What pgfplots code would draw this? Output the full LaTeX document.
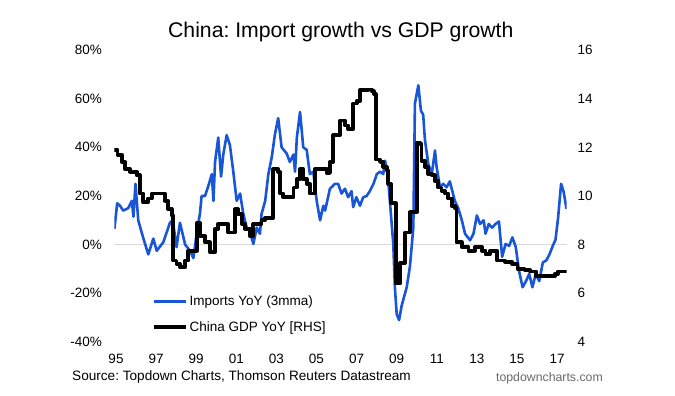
\documentclass[border=0pt]{standalone}
\usepackage{fontspec}
\setmainfont{Liberation Sans}
\usepackage{pgfplots}
\usepackage{pgfplotstable}
\pgfplotsset{compat=1.18}
\frenchspacing
\definecolor{impblue}{RGB}{25,85,215}
\definecolor{gridgray}{RGB}{217,217,217}
\definecolor{srcgray}{RGB}{105,105,105}

\pgfplotstableread{
year imp
1994.92 6.5
1995.06 17
1995.20 16
1995.36 14
1995.61 15
1995.79 18
1995.87 11.5
1995.97 25
1996.11 10
1996.35 3
1996.61 -4
1996.86 2.5
1997.03 -2.5
1997.36 1
1997.69 9
1997.83 10
1998.02 -1
1998.19 9
1998.45 0
1998.69 -2.5
1998.86 -5.5
1999.03 5
1999.19 13
1999.27 20
1999.44 20
1999.60 24
1999.78 29
1999.86 18
1999.94 34
2000.10 44
2000.24 28
2000.35 37
2000.52 45
2000.68 41
2000.85 30
2001.02 18
2001.19 21
2001.35 12.6
2001.52 7
2001.68 5.5
2001.85 0.3
2002.02 7
2002.18 4.5
2002.26 12.6
2002.44 18
2002.60 29
2002.77 36
2002.93 45.5
2003.09 52
2003.26 40
2003.51 37.5
2003.67 34
2003.85 37
2003.93 30
2004.02 44
2004.18 54.5
2004.34 40
2004.51 39
2004.67 29
2004.84 30
2005.01 18
2005.18 10
2005.34 16
2005.43 14
2005.67 23
2005.92 25
2006.08 25
2006.25 21
2006.42 23
2006.58 19.5
2006.75 22
2006.83 15.4
2006.99 19.5
2007.17 16
2007.33 19.5
2007.50 20
2007.66 22
2007.84 25
2008.01 29
2008.17 30
2008.33 29
2008.42 34.5
2008.55 29
2008.66 18
2008.83 0.3
2008.91 -17.5
2009.00 -28.5
2009.12 -31
2009.25 -25
2009.50 -17.5
2009.66 -9
2009.83 7
2009.91 58
2010.08 65.5
2010.21 55
2010.32 53.5
2010.41 43
2010.58 33
2010.75 29
2010.91 38.7
2010.99 32
2011.16 23.6
2011.32 25
2011.49 23.6
2011.65 26
2011.90 18
2012.07 15
2012.25 10
2012.41 4.5
2012.66 1.8
2012.83 4.5
2013.00 12
2013.16 8.5
2013.34 10
2013.43 4.5
2013.59 8.5
2013.76 7
2013.93 8.5
2014.10 9.5
2014.26 -5
2014.43 0.3
2014.61 -0.5
2014.77 3
2014.94 -1
2015.10 -10.7
2015.28 -17.5
2015.45 -15
2015.61 -12
2015.77 -17.5
2015.94 -12
2016.11 -15
2016.29 -7.3
2016.46 -6.5
2016.62 -4
2016.79 -0.4
2016.92 2
2017.05 11
2017.20 25
2017.32 22
2017.47 14.7
}\imports

\pgfplotstableread{
year gdp
1994.92 11.9
1995.07 11.7
1995.28 11.4
1995.45 11.1
1995.70 11.0
1996.03 10.85
1996.20 10.1
1996.36 9.75
1996.61 9.9
1996.79 10.1
1997.45 9.8
1997.61 9.45
1997.78 9.2
1997.86 7.35
1998.02 7.2
1998.19 7.07
1998.45 7.35
1998.61 7.75
1999.03 8.9
1999.19 8.35
1999.44 8.1
1999.68 7.7
1999.94 8.65
2000.10 8.85
2000.60 8.5
2000.93 9.45
2001.09 9.25
2001.27 8.85
2001.44 8.65
2001.68 8.35
2001.85 8.85
2002.26 9.0
2002.44 9.1
2002.85 11.1
2003.09 11.0
2003.18 10.1
2003.34 9.95
2003.85 10.35
2004.02 10.7
2004.18 11.1
2004.34 10.7
2004.51 10.5
2004.67 10.1
2004.92 11.1
2005.51 10.95
2005.67 11.4
2005.84 12.5
2006.17 13.1
2006.42 12.9
2006.58 12.75
2006.83 13.8
2007.01 13.9
2007.17 14.35
2007.58 14.38
2007.75 14.3
2007.86 14.2
2007.95 11.5
2008.17 11.4
2008.33 11.2
2008.50 11.05
2008.58 10.5
2008.71 9.7
2008.95 6.4
2009.17 7.25
2009.42 8.5
2009.66 9.33
2010.00 12.2
2010.16 12.15
2010.24 11.45
2010.41 11.2
2010.58 10.9
2010.75 10.85
2010.91 10.6
2011.08 10.35
2011.24 10.2
2011.41 10.1
2011.57 9.9
2011.74 9.6
2011.90 9.5
2011.98 8.1
2012.25 7.9
2012.58 7.75
2012.90 7.9
2013.26 7.75
2013.43 7.6
2013.65 7.75
2014.01 7.35
2014.40 7.3
2014.75 7.2
2015.03 7.0
2015.40 6.95
2015.65 6.9
2015.94 6.7
2016.89 6.8
2017.04 6.9
2017.47 6.9
}\gdp

\begin{document}
\begin{tikzpicture}[x=1pt,y=1pt]
\pgfplotsset{
  every axis/.append style={
    scale only axis, width=452.2pt, height=292pt,
    at={(0,0)}, anchor=south west,
    xmin=1994.915, xmax=2017.47,
    axis line style={draw=none},
    major tick length=0pt,
    tick label style={font=\fontsize{13.5}{16}\selectfont},
    /pgf/number format/assume math mode=true,
  }
}
\begin{axis}[
  ymin=-40, ymax=80,
  ytick={-40,-20,0,20,40,60,80},
  yticklabels={-40\%,-20\%,0\%,20\%,40\%,60\%,80\%},
  xtick={1995,1997,1999,2001,2003,2005,2007,2009,2011,2013,2015,2017},
  xticklabels={95,97,99,01,03,05,07,09,11,13,15,17},
  yticklabel style={anchor=east, inner sep=0pt, xshift=-12.3pt},
  xticklabel style={anchor=north, inner sep=0pt, yshift=-12pt},
  extra y ticks={0}, extra y tick labels={},
  extra y tick style={grid=major, major grid style={gridgray, line width=1.2pt}},
]
\addplot[impblue, line width=2.6pt, line join=round, no marks] table[x=year, y=imp] {\imports};
\end{axis}
\begin{axis}[
  ymin=4, ymax=16,
  ytick={4,6,8,10,12,14,16},
  axis y line*=right,
  axis x line=none,
  yticklabel style={anchor=west, inner sep=0pt, xshift=11pt},
  legend style={draw=none, fill=none, at={(0.0834,0.158)}, anchor=north west,
    inner sep=0pt, row sep=14pt, font=\fontsize{13.5}{16}\selectfont,
    nodes={inner sep=0pt}, cells={anchor=west}},
  legend image code/.code={\draw[#1] (0pt,0pt) -- (32pt,0pt);},
  /tikz/every odd column/.style={column sep=1.5pt},
]
\addlegendimage{impblue, line width=2.6pt}
\addlegendentry{Imports YoY (3mma)}
\addplot[black, line width=3.8pt, const plot, line join=round, no marks] table[x=year, y=gdp] {\gdp};
\addlegendentry{China GDP YoY [RHS]}
\end{axis}
\node[anchor=base, inner sep=0pt, font=\fontsize{21.2}{25}\selectfont] at (226.5,304.7) {China: Import growth vs GDP growth};
\node[anchor=base west, inner sep=0pt, font=\fontsize{13.6}{16}\selectfont] at (-42.3,-39) {Source: Topdown Charts, Thomson Reuters Datastream};
\node[anchor=base east, inner sep=0pt, text=srcgray, font=\fontsize{12.3}{15}\selectfont] at (488.7,-39.5) {topdowncharts.com};
\path[use as bounding box] (-114.3,-54) rectangle (560.7,342);
\end{tikzpicture}
\end{document}
